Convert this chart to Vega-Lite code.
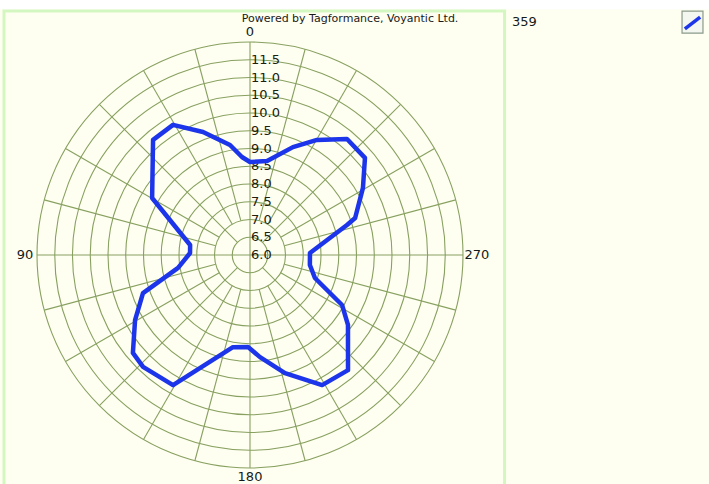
{
  "$schema": "https://vega.github.io/schema/vega-lite/v6.json",
  "width": 426,
  "height": 426,
  "autosize": "none",
  "padding": {"left": 37, "top": 42, "right": 246, "bottom": 16},
  "background": "#fefff0",
  "config": {"view": {"stroke": null}},
  "datasets": {
    "pattern": [
      {"angle": 0, "gain": 8.62}, {"angle": 4.7, "gain": 8.77}, {"angle": 10.3, "gain": 9.15},
      {"angle": 20.9, "gain": 9.71}, {"angle": 30.6, "gain": 10.26}, {"angle": 40.1, "gain": 10.24},
      {"angle": 59.8, "gain": 9.19}, {"angle": 80.5, "gain": 7.71}, {"angle": 88.1, "gain": 7.69},
      {"angle": 100.2, "gain": 8.06}, {"angle": 109.6, "gain": 9.2}, {"angle": 119.5, "gain": 9.72},
      {"angle": 129.9, "gain": 10.3}, {"angle": 136.3, "gain": 10.36}, {"angle": 149.4, "gain": 10.26},
      {"angle": 169.5, "gain": 8.64}, {"angle": 178.8, "gain": 8.59}, {"angle": 185.6, "gain": 8.89},
      {"angle": 196.5, "gain": 9.47}, {"angle": 209.0, "gain": 10.19}, {"angle": 220.4, "gain": 10.26},
      {"angle": 234.5, "gain": 9.39}, {"angle": 241.5, "gain": 8.95}, {"angle": 250.5, "gain": 7.94},
      {"angle": 260.5, "gain": 7.71}, {"angle": 271.9, "gain": 7.69}, {"angle": 287.2, "gain": 8.86},
      {"angle": 289.4, "gain": 9.14}, {"angle": 300.7, "gain": 9.7}, {"angle": 310.2, "gain": 10.24},
      {"angle": 320.1, "gain": 10.26}, {"angle": 329.8, "gain": 9.75}, {"angle": 338.3, "gain": 9.27},
      {"angle": 349.7, "gain": 8.69}, {"angle": 360, "gain": 8.62}
    ],
    "rings": [
      {"r": 6.5}, {"r": 7.0}, {"r": 7.5}, {"r": 8.0}, {"r": 8.5}, {"r": 9.0},
      {"r": 9.5}, {"r": 10.0}, {"r": 10.5}, {"r": 11.0}, {"r": 11.5}, {"r": 12.0}
    ],
    "spokes": [
      {"a": 0, "r0": 6.0}, {"a": 15, "r0": 7.0}, {"a": 30, "r0": 7.0}, {"a": 45, "r0": 6.5},
      {"a": 60, "r0": 7.0}, {"a": 75, "r0": 7.0}, {"a": 90, "r0": 6.0}, {"a": 105, "r0": 7.0},
      {"a": 120, "r0": 7.0}, {"a": 135, "r0": 6.5}, {"a": 150, "r0": 7.0}, {"a": 165, "r0": 7.0},
      {"a": 180, "r0": 6.0}, {"a": 195, "r0": 7.0}, {"a": 210, "r0": 7.0}, {"a": 225, "r0": 6.5},
      {"a": 240, "r0": 7.0}, {"a": 255, "r0": 7.0}, {"a": 270, "r0": 6.0}, {"a": 285, "r0": 7.0},
      {"a": 300, "r0": 7.0}, {"a": 315, "r0": 6.5}, {"a": 330, "r0": 7.0}, {"a": 345, "r0": 7.0}
    ],
    "rlabels": [
      {"v": 6.0, "t": "6.0"}, {"v": 6.5, "t": "6.5"}, {"v": 7.0, "t": "7.0"}, {"v": 7.5, "t": "7.5"},
      {"v": 8.0, "t": "8.0"}, {"v": 8.5, "t": "8.5"}, {"v": 9.0, "t": "9.0"}, {"v": 9.5, "t": "9.5"},
      {"v": 10.0, "t": "10.0"}, {"v": 10.5, "t": "10.5"}, {"v": 11.0, "t": "11.0"}, {"v": 11.5, "t": "11.5"}
    ],
    "alabels": [
      {"t": "0", "x": 0, "y": 6.28},
      {"t": "90", "x": -6.34, "y": 0},
      {"t": "180", "x": 0, "y": -6.25},
      {"t": "270", "x": 6.39, "y": 0}
    ],
    "frame": [
      {"x": -7.1, "x2": 13.2, "y": 7.3, "y2": 6.92}
    ],
    "panel": [
      {"x": -6.93, "x2": 7.17, "y": 6.87, "y2": -6.7}
    ],
    "icon": [
      {"x": 12.17, "x2": 12.76, "y": 6.87, "y2": 6.25}
    ],
    "iconline": [
      {"x": 12.25, "x2": 12.68, "y": 6.37, "y2": 6.7}
    ],
    "notes": [
      {"t": "Powered by Tagformance, Voyantic Ltd.", "x": 2.82, "y": 6.66}
    ],
    "count": [
      {"t": "359", "x": 7.38, "y": 6.56}
    ]
  },
  "layer": [
    {
      "data": {"name": "frame"},
      "mark": {"type": "rect", "fill": "#ffffff", "strokeWidth": 0},
      "encoding": {
        "x": {"field": "x", "type": "quantitative", "scale": {"domain": [-6, 6], "nice": false, "zero": false}, "axis": null},
        "x2": {"field": "x2"},
        "y": {"field": "y", "type": "quantitative", "scale": {"domain": [-6, 6], "nice": false, "zero": false}, "axis": null},
        "y2": {"field": "y2"}
      }
    },
    {
      "data": {"name": "panel"},
      "mark": {"type": "rect", "fill": "#fefff0", "stroke": "#d4f7c2", "strokeWidth": 3},
      "encoding": {
        "x": {"field": "x", "type": "quantitative", "scale": {"domain": [-6, 6], "nice": false, "zero": false}, "axis": null},
        "x2": {"field": "x2"},
        "y": {"field": "y", "type": "quantitative", "scale": {"domain": [-6, 6], "nice": false, "zero": false}, "axis": null},
        "y2": {"field": "y2"}
      }
    },
    {
      "data": {"name": "rings"},
      "mark": {"type": "arc", "theta": 0, "theta2": 6.2832, "filled": false, "stroke": "#88a060", "strokeWidth": 1.1},
      "encoding": {
        "radius": {"field": "r", "type": "quantitative", "stack": null, "scale": {"type": "linear", "domain": [6, 12], "range": [0, 213], "zero": false}, "legend": null}
      }
    },
    {
      "data": {"name": "spokes"},
      "transform": [
        {"calculate": "-(datum.r0 - 6) * sin(datum.a * PI / 180)", "as": "sx"},
        {"calculate": "(datum.r0 - 6) * cos(datum.a * PI / 180)", "as": "sy"},
        {"calculate": "-6 * sin(datum.a * PI / 180)", "as": "ex"},
        {"calculate": "6 * cos(datum.a * PI / 180)", "as": "ey"}
      ],
      "mark": {"type": "rule", "stroke": "#88a060", "strokeWidth": 1.1},
      "encoding": {
        "x": {"field": "sx", "type": "quantitative", "scale": {"domain": [-6, 6], "nice": false, "zero": false}, "axis": null},
        "y": {"field": "sy", "type": "quantitative", "scale": {"domain": [-6, 6], "nice": false, "zero": false}, "axis": null},
        "x2": {"field": "ex"},
        "y2": {"field": "ey"}
      }
    },
    {
      "data": {"name": "rlabels"},
      "transform": [{"calculate": "datum.v - 6", "as": "yy"}],
      "mark": {"type": "text", "align": "left", "baseline": "middle", "dx": 1, "font": "DejaVu Sans", "fontSize": 13, "fill": "#1c200c"},
      "encoding": {
        "x": {"datum": 0, "type": "quantitative", "scale": {"domain": [-6, 6], "nice": false, "zero": false}, "axis": null},
        "y": {"field": "yy", "type": "quantitative", "scale": {"domain": [-6, 6], "nice": false, "zero": false}, "axis": null},
        "text": {"field": "t"}
      }
    },
    {
      "data": {"name": "pattern"},
      "transform": [
        {"calculate": "-(datum.gain - 6) * sin(datum.angle * PI / 180)", "as": "px"},
        {"calculate": "(datum.gain - 6) * cos(datum.angle * PI / 180)", "as": "py"}
      ],
      "mark": {"type": "line", "stroke": "#1c34ea", "strokeWidth": 4.5, "strokeJoin": "round", "strokeCap": "round"},
      "encoding": {
        "x": {"field": "px", "type": "quantitative", "scale": {"domain": [-6, 6], "nice": false, "zero": false}, "axis": null},
        "y": {"field": "py", "type": "quantitative", "scale": {"domain": [-6, 6], "nice": false, "zero": false}, "axis": null},
        "order": {"field": "angle", "type": "quantitative"}
      }
    },
    {
      "data": {"name": "alabels"},
      "mark": {"type": "text", "align": "center", "baseline": "middle", "font": "DejaVu Sans", "fontSize": 13, "fill": "#141a1a"},
      "encoding": {
        "x": {"field": "x", "type": "quantitative", "scale": {"domain": [-6, 6], "nice": false, "zero": false}, "axis": null},
        "y": {"field": "y", "type": "quantitative", "scale": {"domain": [-6, 6], "nice": false, "zero": false}, "axis": null},
        "text": {"field": "t"}
      }
    },
    {
      "data": {"name": "notes"},
      "mark": {"type": "text", "align": "center", "baseline": "middle", "font": "DejaVu Sans", "fontSize": 11, "fill": "#1a1a1a"},
      "encoding": {
        "x": {"field": "x", "type": "quantitative", "scale": {"domain": [-6, 6], "nice": false, "zero": false}, "axis": null},
        "y": {"field": "y", "type": "quantitative", "scale": {"domain": [-6, 6], "nice": false, "zero": false}, "axis": null},
        "text": {"field": "t"}
      }
    },
    {
      "data": {"name": "count"},
      "mark": {"type": "text", "align": "left", "baseline": "middle", "font": "DejaVu Sans", "fontSize": 13, "fill": "#141a1a"},
      "encoding": {
        "x": {"field": "x", "type": "quantitative", "scale": {"domain": [-6, 6], "nice": false, "zero": false}, "axis": null},
        "y": {"field": "y", "type": "quantitative", "scale": {"domain": [-6, 6], "nice": false, "zero": false}, "axis": null},
        "text": {"field": "t"}
      }
    },
    {
      "data": {"name": "icon"},
      "mark": {"type": "rect", "fill": "#f4f6f0", "stroke": "#8a9a8a", "strokeWidth": 1.2},
      "encoding": {
        "x": {"field": "x", "type": "quantitative", "scale": {"domain": [-6, 6], "nice": false, "zero": false}, "axis": null},
        "x2": {"field": "x2"},
        "y": {"field": "y", "type": "quantitative", "scale": {"domain": [-6, 6], "nice": false, "zero": false}, "axis": null},
        "y2": {"field": "y2"}
      }
    },
    {
      "data": {"name": "iconline"},
      "mark": {"type": "rule", "stroke": "#1c34ea", "strokeWidth": 3.5},
      "encoding": {
        "x": {"field": "x", "type": "quantitative", "scale": {"domain": [-6, 6], "nice": false, "zero": false}, "axis": null},
        "x2": {"field": "x2"},
        "y": {"field": "y", "type": "quantitative", "scale": {"domain": [-6, 6], "nice": false, "zero": false}, "axis": null},
        "y2": {"field": "y2"}
      }
    }
  ]
}
